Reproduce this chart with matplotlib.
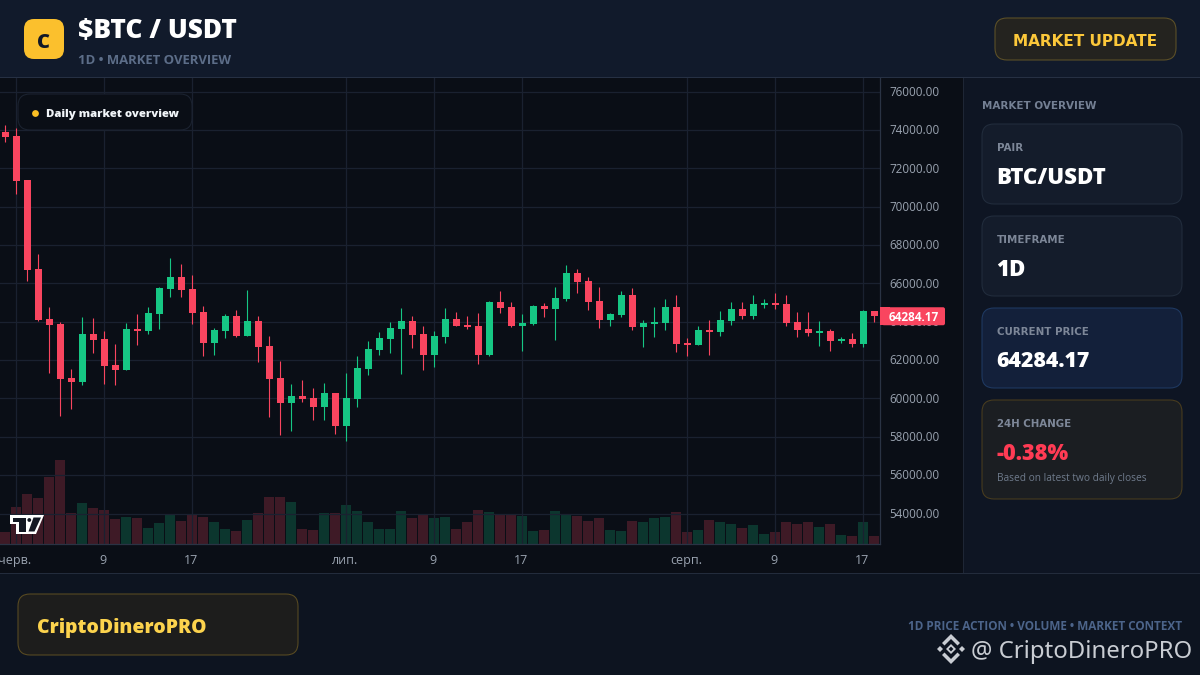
import numpy as np
import matplotlib
matplotlib.use("Agg")
import matplotlib.pyplot as plt
from matplotlib.patches import FancyBboxPatch, Polygon, Circle, Rectangle
from matplotlib.transforms import ScaledTranslation

opens = [73890,73680,71390,66750,64140,63880,61070,60860,63360,63100,61740,61480,63620,63510,64400,65700,
         66330,65700,64510,62890,63510,64300,63250,64040,62730,61070,59760,60130,60020,59550,60280,58560,
         59970,61530,62520,63100,63620,64040,63360,62260,63200,64140,63830,63780,62260,65030,64770,63780,
         63880,64820,64660,65180,66540,66120,65080,64090,64350,65390,63720,63880,63930,64770,62890,62790,
         63570,63460,64040,64660,64300,64870,64970,64920,63980,63620,63410,63510,62990,63100,62840,64560]
highs = [74250,74100,71390,67530,64770,63980,61530,64240,64190,63510,62840,63930,64400,64770,65810,67320,
         67010,66430,64820,63670,64400,64610,65650,64300,63250,61950,60750,60960,60540,60800,60280,61320,
         62210,62990,63460,63980,64710,64300,63780,63510,64710,64510,64300,64450,65080,65600,65030,64400,
         64870,64970,65810,66960,66750,66330,65810,64450,65600,65760,64090,64770,65180,65390,63150,63780,
         64090,64560,65030,65030,65390,65180,65500,65390,64510,64510,64040,63620,63200,63410,64610,64560]
lows = [73370,70660,66120,64040,61330,59080,59450,60700,62370,60750,60700,61480,62790,63360,63620,65290,
        65290,63880,62210,62260,63150,63200,63250,61900,59030,58090,58300,59810,58880,58880,58150,57780,
        59550,61220,62260,62370,61270,62630,61480,61640,62890,63780,63620,61790,62210,64450,63720,62470,
        63830,64240,63050,65080,65500,64610,63670,63780,64240,63570,62680,63200,63570,62420,62210,62790,
        62260,63250,63830,64140,64140,64710,64660,63780,63200,63250,62730,62470,62890,62680,62680,63980]
closes = [73630,71340,66690,64090,63830,61010,60860,63360,63050,61690,61480,63620,63510,64450,65760,66330,
          65650,64450,62890,63570,64300,63250,64040,62680,61010,59760,60130,59970,59550,60280,58560,60020,
          61590,62580,63150,63670,64040,63310,62260,63250,64140,63780,63720,62260,65030,64710,63780,63930,
          64820,64660,65240,66540,66070,65030,64090,64400,65390,63720,63930,63980,64770,62840,62790,63570,
          63460,64090,64660,64300,64920,64970,64870,63930,63570,63410,63510,62990,63100,62840,64560,64284.17]
volumes = [12,37,50,46,67,84,31,41,36,34,25,27,26,16,21,29,23,30,27,22,15,13,24,31,47,47,42,15,
           14,31,31,39,33,22,15,15,33,26,29,26,27,15,22,34,32,29,29,28,13,14,33,29,28,23,
           26,14,13,23,22,26,27,32,12,14,24,22,20,16,19,10,12,22,20,22,17,20,9,8,22,8]
x_labels = ["черв.", "9", "17", "лип.", "9", "17", "серп.", "9", "17"]
x_label_days = [1, 9, 17, 31, 39, 47, 62, 70, 78]
price_ticks = list(range(54000, 76001, 2000))
last_price = 64284.17
pair = "BTC/USDT"
timeframe = "1D"
change = "-0.38%"

UP, DOWN = "#16c784", "#f9455f"
SANS = ["Open Sans", "Noto Sans", "DejaVu Sans"]
WIDE = ["DejaVu Sans"]
plt.rcParams["font.family"] = SANS

PX_PER_PRICE = 1 / 52.13
PRICE_AT_PX0 = 80770
TOP_PX, BOTTOM_PX, RIGHT_PX = 78, 544, 880

fig = plt.figure(figsize=(12, 6.75), dpi=100, facecolor="#0c121e")

# page furniture, in pixel coordinates
bg = fig.add_axes([0, 0, 1, 1], zorder=0)
bg.set_xlim(0, 1200); bg.set_ylim(675, 0); bg.axis("off")

def rect(x0, y0, x1, y1, color, z=1):
    bg.add_patch(Rectangle((x0, y0), x1 - x0, y1 - y0, fc=color, ec="none", zorder=z))

def rbox(ax, x0, y0, x1, y1, r, fc, ec, z=3, lw=0.75):
    ax.add_patch(FancyBboxPatch((x0 + r, y0 + r), x1 - x0 - 2 * r, y1 - y0 - 2 * r,
                                boxstyle=f"round,pad={r},rounding_size={r}", fc=fc, ec=ec, lw=lw, zorder=z))

def label(x, y, s, size, color, weight="bold", ha="left", family=None, z=5):
    bg.text(x, y, s, fontsize=size * 0.72, color=color, fontweight=weight, ha=ha, va="center_baseline",
            family=family or SANS, zorder=z)

rect(0, 0, 1200, 77, "#111a2b")
rect(0, 77, 1200, 78, "#263043", 2)
rect(964, 78, 1200, 573, "#0e1523")
rect(0, 78, 964, 573, "#0a0e16")
rect(963, 78, 964, 573, "#1e2635", 2)
rect(0, 573, 1200, 675, "#0d1420")
rect(0, 573, 1200, 574, "#232c3c", 2)

rbox(bg, 24, 19, 64, 59, 10, "#fbc02d", "none")
label(44, 40, "C", 20, "#111827", weight="heavy", ha="center")
label(78, 28.5, "$BTC / USDT", 26.2, "#ffffff", weight="heavy")
label(78, 59, "1D • MARKET OVERVIEW", 13.1, "#5c6d88")
rbox(bg, 995, 18, 1176, 60, 12, "#24231f", "#5f5228")
label(1085.5, 39.5, "MARKET UPDATE", 15.2, "#fcc83a", ha="center", family=WIDE)

label(982, 105, "MARKET OVERVIEW", 10.4, "#748094", family=WIDE)
cards = [(124, 204, "#141c2b", "#222d3d", "PAIR", pair, "#ffffff", 22.3),
         (216, 296, "#141c2b", "#222d3d", "TIMEFRAME", timeframe, "#ffffff", 22.3),
         (308, 388, "#13203a", "#1f3a63", "CURRENT PRICE", f"{last_price:.2f}", "#ffffff", 21.3),
         (400, 499, "#1b1e22", "#4a3d1e", "24H CHANGE", change, "#ff3b54", 21.8)]
for y0, y1, fc, ec, head, val, col, size in cards:
    rbox(bg, 982, y0, 1182, y1, 12, fc, ec)
    label(997, y0 + 23, head, 10.2, "#7d8798", family=WIDE)
    label(996.5, y0 + 51.2, val, size, col, weight="heavy")
label(997, 476.5, "Based on latest two daily closes", 10.1, "#6f7b8c", weight="normal")

rbox(bg, 18, 594, 298, 655, 12, "#1d1d1c", "#5a4c22")
label(37, 626, "CriptoDineroPRO", 19.4, "#fcd34d", weight="heavy")
label(1182, 625, "1D PRICE ACTION • VOLUME • MARKET CONTEXT", 11.75, "#4c648a", ha="right")

# watermark (Binance style mark + handle)
wm = "#c9cdd3"
cx, cy = 951, 649
def diamond(x, y, r, color=wm, z=6):
    bg.add_patch(Polygon([(x - r, y), (x, y - r), (x + r, y), (x, y + r)], fc=color, ec="none", zorder=z))
diamond(cx, cy, 5)
diamond(cx, cy, 2.4, "#0d1420", 7)
diamond(cx - 11, cy, 3)
diamond(cx + 11, cy, 3)
for s in (-1, 1):
    bg.add_patch(Polygon([(cx - 9, cy + s * 6), (cx, cy + s * 15), (cx + 9, cy + s * 6), (cx + 6.5, cy + s * 3.5),
                          (cx, cy + s * 10), (cx - 6.5, cy + s * 3.5)], fc=wm, ec="none", zorder=6))
label(971, 649, "@ CriptoDineroPRO", 23.9, wm, weight="normal", family=["Noto Sans", "DejaVu Sans"], z=6)

# chart: x index 0 is centred 5.3 px in, 11 px per day
ax = fig.add_axes([0, (675 - BOTTOM_PX) / 675, RIGHT_PX / 1200, (BOTTOM_PX - TOP_PX) / 675], zorder=2)
ax.set_facecolor("none")
ax.set_xlim(-5.3 / 11, (RIGHT_PX - 5.3) / 11)
ax.set_ylim(PRICE_AT_PX0 - 52.13 * BOTTOM_PX, PRICE_AT_PX0 - 52.13 * TOP_PX)

vol = ax.twinx()
vol.set_ylim(0, BOTTOM_PX - TOP_PX)
vol.set_zorder(1); ax.set_zorder(2)
vol.axis("off")

days = np.arange(len(closes))
o, h, l, c = map(np.array, (opens, highs, lows, closes))
up = c >= o
colors = np.where(up, UP, DOWN)
vol.bar(days, volumes, width=10 / 11, color=colors, alpha=0.22, linewidth=0)

ax.vlines(days, l, h, colors=colors, lw=0.8, zorder=3)
ax.bar(days, np.abs(c - o), bottom=np.minimum(o, c), width=7 / 11, color=colors, linewidth=0, zorder=4)

ax.set_yticks(price_ticks, [f"{p:.2f}" for p in price_ticks])
ax.set_xticks(x_label_days, x_labels)
ax.yaxis.tick_right()
ax.tick_params(axis="y", length=0, pad=7, labelsize=8.35, labelcolor="#9aa3b0")
ax.tick_params(axis="x", length=0, pad=7, labelsize=9.0, labelcolor="#9aa3b0")
shift_x = ScaledTranslation(-1.5 / 100, 0, fig.dpi_scale_trans)
shift_y = ScaledTranslation(0, 0.7 / 100, fig.dpi_scale_trans)
for t in ax.get_xticklabels():
    t.set_transform(t.get_transform() + shift_x)
for t in ax.get_yticklabels():
    t.set_transform(t.get_transform() + shift_y)
ax.grid(True, color="#1a2130", lw=0.9, zorder=0)
ax.set_axisbelow(True)
for k, sp in ax.spines.items():
    sp.set_visible(k in ("right", "bottom"))
    sp.set_color("#2a3344"); sp.set_linewidth(0.9)

# overlays on the chart
top = fig.add_axes([0, 0, 1, 1], zorder=5)
top.set_xlim(0, 1200); top.set_ylim(675, 0); top.axis("off"); top.patch.set_alpha(0)
rbox(top, 18, 94, 192, 130, 12, "#0a0e16", "#1c2331")
top.add_patch(Circle((35.5, 113.5), 3.4, fc="#fbbf24", ec="none", zorder=5))
top.text(46, 113, "Daily market overview", fontsize=11.35 * 0.72, color="#f1f5f9", fontweight="heavy",
         ha="left", va="center_baseline", zorder=5)

# TradingView style mark
dark = "#131722"
top.add_patch(Polygon([(10, 515), (44, 515), (36, 534), (16, 534), (16, 524), (10, 524)], fc="#ffffff", ec="none", zorder=5))
top.add_patch(Polygon([(13, 517.5), (25.5, 517.5), (25.5, 531.5), (19, 531.5), (19, 522), (13, 522)], fc=dark, ec="none", zorder=6))
top.add_patch(Polygon([(33.5, 517.5), (41, 517.5), (34.5, 531.5), (28.5, 531.5)], fc=dark, ec="none", zorder=6))
top.add_patch(Circle((29.3, 520), 1.9, fc=dark, ec="none", zorder=6))

# last price tag, placed from the price scale
tag_y = (PRICE_AT_PX0 - last_price) * PX_PER_PRICE
top.add_patch(Rectangle((RIGHT_PX, tag_y - 9), 10, 18, fc=DOWN, ec="none", zorder=7))
rbox(top, RIGHT_PX + 2, tag_y - 9, 945, tag_y + 9, 2, DOWN, "none", z=7, lw=0)
top.text(914, tag_y, f"{last_price:.2f}", fontsize=8.5, fontweight="bold", color="#ffffff",
         ha="center", va="center_baseline", zorder=8)

fig.savefig("out.png", dpi=100, facecolor=fig.get_facecolor())
